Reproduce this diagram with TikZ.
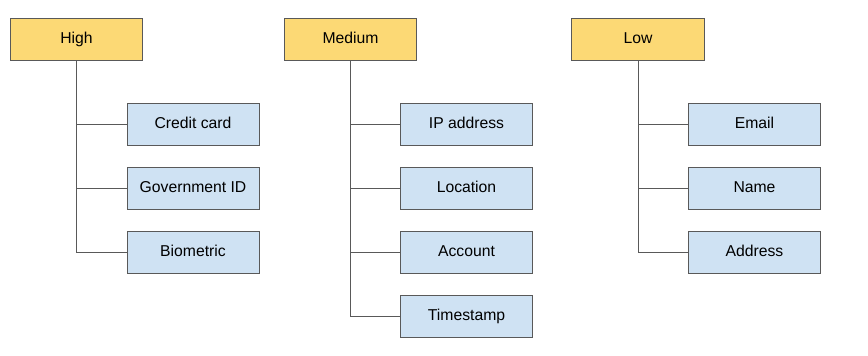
\documentclass[tikz,border=0pt]{standalone}
\usepackage{fontspec}
\setmainfont{Liberation Sans}
\definecolor{levelyellow}{RGB}{252,217,117}
\definecolor{itemblue}{RGB}{207,226,243}
\definecolor{linegray}{RGB}{89,89,89}

\begin{document}
\begin{tikzpicture}[x=0.75pt,y=-0.75pt,
  level/.style={draw=linegray,fill=levelyellow,line width=0.75pt,minimum width=99.5pt,minimum height=31.5pt,inner sep=0pt,text height=9pt,text depth=3pt,font=\fontsize{11.8}{14}\selectfont},
  item/.style={draw=linegray,fill=itemblue,line width=0.75pt,minimum width=99pt,minimum height=31.5pt,inner sep=0pt,text height=9pt,text depth=3pt,font=\fontsize{11.8}{14}\selectfont},
  link/.style={draw=linegray,line width=0.75pt}]
  \useasboundingbox (0,0) rectangle (868,355);
  %The three levels:
  \node[level] (high) at (76.5,39) {High};
  \node[level] (medium) at (350.5,39) {Medium};
  \node[level] (low) at (638,39) {Low};
  %High items
  \node[item] (credit) at (193,124) {Credit card};
  \node[item] (govid) at (193,188) {Government ID};
  \node[item] (bio) at (193,252) {Biometric};
  \foreach \n in {credit,govid,bio}{
    \draw[link] (high.south) |- (\n.west);
  }
  %Medium items
  \node[item] (ip) at (466.5,124) {IP address};
  \node[item] (loc) at (466.5,188) {Location};
  \node[item] (acct) at (466.5,252) {Account};
  \node[item] (time) at (466.5,316) {Timestamp};
  \foreach \n in {ip,loc,acct,time}{
    \draw[link] (medium.south) |- (\n.west);
  }
  %Low items
  \node[item] (email) at (754.5,124) {Email};
  \node[item] (name) at (754.5,188) {Name};
  \node[item] (addr) at (754.5,252) {Address};
  \foreach \n in {email,name,addr}{
    \draw[link] (low.south) |- (\n.west);
  }
\end{tikzpicture}
\end{document}
